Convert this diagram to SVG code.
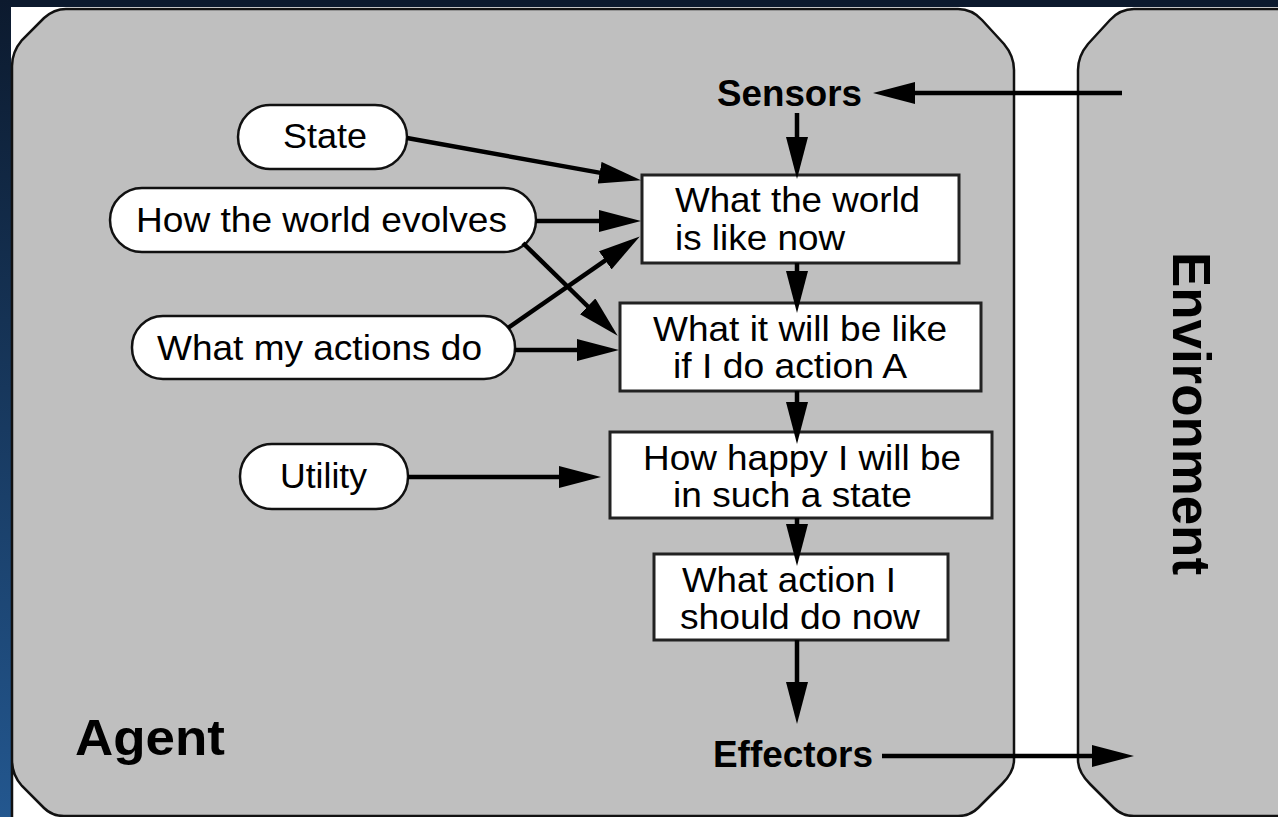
<svg xmlns="http://www.w3.org/2000/svg" width="1278" height="817" viewBox="0 0 1278 817">
<defs>
<linearGradient id="lb" x1="0" y1="0" x2="0" y2="1">
<stop offset="0" stop-color="#0c1a2e"/>
<stop offset="1" stop-color="#23578f"/>
</linearGradient>
<marker id="ah" markerUnits="userSpaceOnUse" markerWidth="42" markerHeight="22" viewBox="0 0 42 22" refX="1" refY="11" orient="auto">
<path d="M0,0 L42,11 L0,22 Z" fill="#000"/>
</marker>
<style>
.panel{fill:#bfbfbf;stroke:#111;stroke-width:2.5}
.box{fill:#fff;stroke:#222;stroke-width:3}
.pill{fill:#fff;stroke:#111;stroke-width:2.5}
.t{font-family:"Liberation Sans",Arial,sans-serif;font-size:35px;fill:#000}
.b{font-family:"Liberation Sans",Arial,sans-serif;font-weight:bold;fill:#000}
.c{stroke:#000;stroke-width:4.5;fill:none;marker-end:url(#ah)}
</style>
</defs>
<rect x="0" y="0" width="1278" height="817" fill="#fff"/>
<rect x="0" y="0" width="1278" height="7" fill="#0c1a2e"/>
<rect x="0" y="0" width="11" height="817" fill="url(#lb)"/>

<g id="agent">
<path class="panel" d="M12,820 L12,760 Q12,775 22,786 L44,808 Q52,816 64,816 L958,816 Q970,816 978,808 L1002,784 Q1014,772 1014,760 L1014,70 Q1014,56 1004,44 L982,20 Q972,9 958,9 L66,9 Q54,9 44,18 L22,40 Q12,52 12,66 Z"/>
<text class="b" x="75" y="755" font-size="50" textLength="150" lengthAdjust="spacingAndGlyphs">Agent</text>
</g>

<g id="environment">
<path class="panel" d="M1300,9 L1134,9 Q1120,9 1110,20 L1088,44 Q1078,56 1078,70 L1078,760 Q1078,772 1090,784 L1114,808 Q1122,816 1134,816 L1300,816 Z"/>
<text class="b" transform="translate(1173,252) rotate(90)" font-size="53" textLength="323" lengthAdjust="spacingAndGlyphs">Environment</text>
</g>

<g id="sensors">
<text class="b" x="717" y="106" font-size="36" textLength="145" lengthAdjust="spacingAndGlyphs">Sensors</text>
</g>
<g id="effectors">
<text class="b" x="713" y="767" font-size="37" textLength="160" lengthAdjust="spacingAndGlyphs">Effectors</text>
</g>

<g id="state">
<rect class="pill" x="238" y="105" width="169" height="64" rx="32" ry="32"/>
<text class="t" x="283" y="148" textLength="84" lengthAdjust="spacingAndGlyphs">State</text>
</g>
<g id="how-world-evolves">
<rect class="pill" x="110" y="188" width="426" height="64" rx="32" ry="32"/>
<text class="t" x="136" y="232" textLength="371" lengthAdjust="spacingAndGlyphs">How the world evolves</text>
</g>
<g id="what-my-actions-do">
<rect class="pill" x="132" y="316" width="383" height="63" rx="31" ry="31"/>
<text class="t" x="157" y="360" textLength="325" lengthAdjust="spacingAndGlyphs">What my actions do</text>
</g>
<g id="utility">
<rect class="pill" x="240" y="444" width="168" height="65" rx="32" ry="32"/>
<text class="t" x="280" y="488" textLength="87" lengthAdjust="spacingAndGlyphs">Utility</text>
</g>

<g id="world-now">
<rect class="box" x="642" y="175" width="317" height="88"/>
<text class="t" x="675" y="212" textLength="245" lengthAdjust="spacingAndGlyphs">What the world</text>
<text class="t" x="675" y="250" textLength="170" lengthAdjust="spacingAndGlyphs">is like now</text>
</g>
<g id="will-be-like">
<rect class="box" x="620" y="303" width="361" height="88"/>
<text class="t" x="653" y="341" textLength="294" lengthAdjust="spacingAndGlyphs">What it will be like</text>
<text class="t" x="673" y="378" textLength="234" lengthAdjust="spacingAndGlyphs">if I do action A</text>
</g>
<g id="how-happy">
<rect class="box" x="610" y="432" width="382" height="86"/>
<text class="t" x="643" y="470" textLength="318" lengthAdjust="spacingAndGlyphs">How happy I will be</text>
<text class="t" x="673" y="507" textLength="239" lengthAdjust="spacingAndGlyphs">in such a state</text>
</g>
<g id="what-action">
<rect class="box" x="654" y="554" width="294" height="86"/>
<text class="t" x="682" y="592" textLength="214" lengthAdjust="spacingAndGlyphs">What action I</text>
<text class="t" x="680" y="629" textLength="240" lengthAdjust="spacingAndGlyphs">should do now</text>
</g>

<g id="connectors">
<line class="c" x1="1122" y1="93" x2="914" y2="93"/>
<line class="c" x1="797" y1="113" x2="797" y2="138"/>
<line class="c" x1="797" y1="263" x2="797" y2="272"/>
<line class="c" x1="797" y1="391" x2="797" y2="403"/>
<line class="c" x1="797" y1="518" x2="797" y2="525"/>
<line class="c" x1="797" y1="640" x2="797" y2="683"/>
<line class="c" x1="882" y1="756" x2="1093" y2="756"/>
<line class="c" x1="407" y1="138" x2="600.6" y2="172.9"/>
<line class="c" x1="536" y1="221" x2="600" y2="221"/>
<line class="c" x1="508" y1="328" x2="606.1" y2="259.8"/>
<line class="c" x1="523" y1="243" x2="588.4" y2="307"/>
<line class="c" x1="515" y1="350" x2="578" y2="350"/>
<line class="c" x1="408" y1="477" x2="560" y2="477"/>
</g>
</svg>
